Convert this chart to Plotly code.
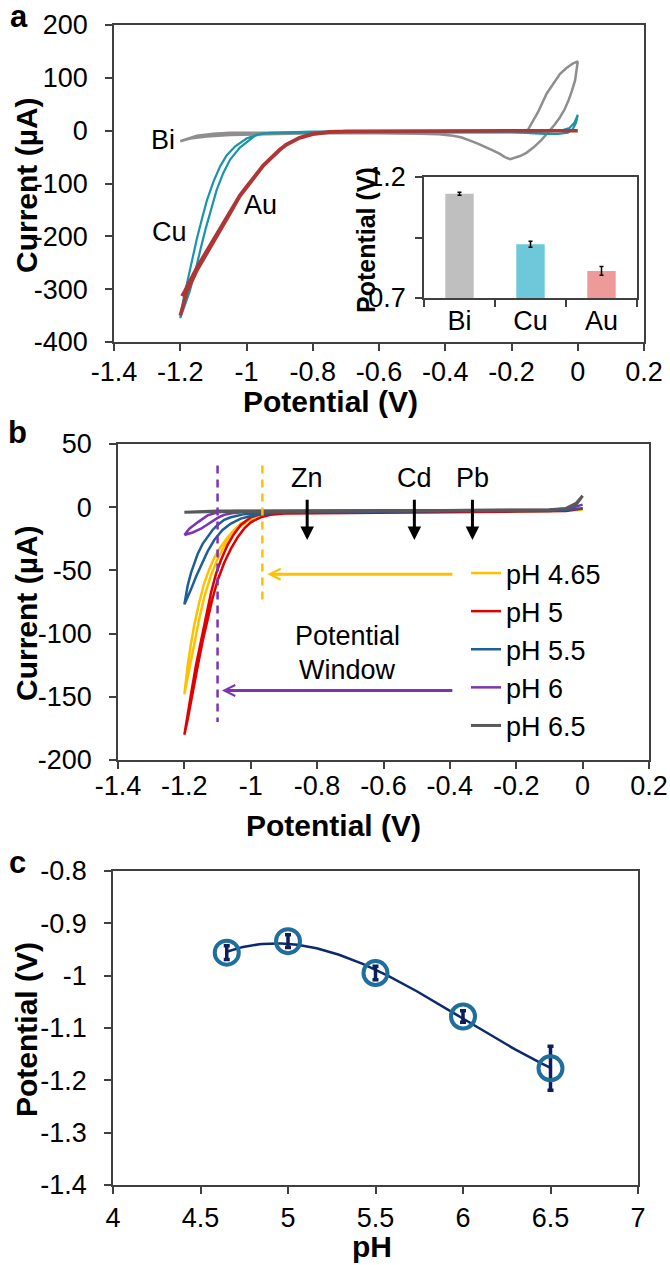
import numpy as np
import plotly.graph_objects as go

W, H = 670, 1265
FONT = "Liberation Sans, Arial, sans-serif"

# ---------------- Panel a: CV curves (V, µA) ----------------
BI_V = [-1.2, -1.17, -1.15, -1.1, -1.05, -0.95, -0.8, -0.6, -0.4, -0.25, -0.17, -0.15, -0.12, -0.094, -0.07, -0.054,
        -0.035, -0.015, 0.0, -0.003, -0.008, -0.018, -0.028, -0.04, -0.054, -0.07, -0.089, -0.11, -0.134, -0.155,
        -0.174, -0.19, -0.204, -0.22, -0.235, -0.255, -0.275, -0.3, -0.325, -0.35, -0.376, -0.42, -0.476, -0.6,
        -0.8, -0.95, -1.05, -1.12, -1.17, -1.2]
BI_I = [-20, -13, -9.5, -6, -4, -4, -4, -4, -4, -4, -3, 2, 35, 70, 92, 107,
        118, 127, 131, 115, 95, 75, 57, 40, 25, 11, -3, -18, -32, -42,
        -48, -52, -54, -50, -44, -38, -32, -25, -19, -13, -9.5, -7, -6, -5,
        -5, -6, -8, -11, -15, -20]

CU_V = [-1.2, -1.19, -1.18, -1.165, -1.15, -1.135, -1.12, -1.1, -1.08, -1.06, -1.035, -1.0, -0.97, -0.93, -0.88,
        -0.8, -0.6, -0.4, -0.2, -0.1, -0.05, -0.025, -0.01, 0.0, -0.005, -0.015, -0.03, -0.06, -0.1, -0.15, -0.2,
        -0.4, -0.6, -0.8, -0.9, -0.95, -0.975, -0.995, -1.02, -1.05, -1.07, -1.09, -1.108, -1.123, -1.138, -1.153,
        -1.172, -1.2]
CU_I = [-355, -318, -290, -245, -205, -168, -133, -97, -68, -47, -30, -15, -8, -4, -3,
        -2, -2, -2, -2, -1.5, 0, 5, 15, 30, 15, 3, -4, -6, -6, -5, -3,
        -3, -3, -3, -4, -5, -10, -20, -32, -55, -80, -112, -150, -185, -222, -262,
        -305, -355]

AU_V = [-1.195, -1.186, -1.15, -1.1, -1.05, -1.02, -1.0, -0.95, -0.9, -0.88, -0.84, -0.8, -0.75, -0.7, -0.4, -0.1, 0.0,
        -0.1, -0.4, -0.7, -0.75, -0.8, -0.84, -0.88, -0.9, -0.95, -1.0, -1.02, -1.05, -1.1, -1.15, -1.18, -1.2]
AU_I = [-313, -303, -259, -206, -155, -122, -106, -66, -36, -26, -13, -6, -2, -1, -0.5, 0, 0,
        0, -0.5, -1, -3, -7, -14, -27, -37, -67, -108, -124, -157, -210, -265, -305, -350]

# inset
INSET_CATS = ["Bi", "Cu", "Au"]
INSET_VALS = [1.131, 0.922, 0.812]
INSET_ERR = [0.006, 0.012, 0.018]
INSET_COLORS = ["#BFBFBF", "#6DC8DA", "#EE9A9A"]

# ---------------- Panel b ----------------
PH465_V = [-1.2, -1.19, -1.18, -1.17, -1.155, -1.14, -1.125, -1.11, -1.09, -1.07, -1.05, -1.03, -1.0, -0.97, -0.94,
           -0.9, -0.8, -0.6, -0.4, -0.2, -0.1, 0.0, -0.1, -0.3, -0.5, -0.7, -0.9, -0.95, -0.98, -1.01, -1.035,
           -1.06, -1.08, -1.1, -1.12, -1.14, -1.155, -1.17, -1.18, -1.19, -1.2]
PH465_I = [-148, -125, -108, -93, -75, -60, -49, -40, -31, -24, -18, -13, -9, -6, -5,
           -4.5, -4, -4, -3.5, -3, -3, -2, -3, -3.5, -4, -4, -4.5, -5.5, -7.5, -11, -16,
           -23, -31, -41, -54, -71, -88, -108, -122, -136, -148]

PH5_V = [-1.2, -1.19, -1.18, -1.165, -1.15, -1.135, -1.12, -1.105, -1.09, -1.07, -1.05, -1.03, -1.0, -0.97, -0.94,
         -0.9, -0.8, -0.6, -0.4, -0.2, -0.05, 0.0, -0.05, -0.2, -0.4, -0.6, -0.8, -0.9, -0.94, -0.97, -1.0, -1.02,
         -1.04, -1.06, -1.08, -1.1, -1.115, -1.13, -1.145, -1.16, -1.175, -1.19, -1.2]
PH5_I = [-180, -163, -148, -125, -105, -85, -68, -53, -42, -30, -21, -14, -8, -5.5, -4.5,
         -4, -4, -4, -3.5, -3, -2.5, -1, -3, -3.5, -4, -4, -4.5, -5, -6, -8, -12, -17,
         -24, -33, -44, -58, -72, -88, -106, -126, -148, -168, -180]

PH55_V = [-1.2, -1.19, -1.18, -1.17, -1.16, -1.145, -1.13, -1.115, -1.1, -1.08, -1.06, -1.04, -1.02, -1.0, -0.95,
          -0.9, -0.7, -0.5, -0.3, -0.1, 0.0, -0.1, -0.3, -0.5, -0.7, -0.9, -0.95, -1.0, -1.03, -1.06, -1.085,
          -1.11, -1.13, -1.15, -1.165, -1.18, -1.19, -1.2]
PH55_I = [-77, -62, -52, -44, -37, -29, -23, -18, -14, -10, -8, -6.5, -5.5, -5, -4,
          -3.5, -3.5, -3, -3, -2.5, -1, -3, -3, -3.5, -3.5, -4, -5, -7, -9, -13, -18,
          -26, -35, -46, -55, -65, -71, -77]

PH6_V = [-1.2, -1.185, -1.16, -1.13, -1.1, -1.05, -1.0, -0.8, -0.6, -0.4, -0.2, -0.1, -0.04, 0.0,
         -0.04, -0.1, -0.3, -0.6, -0.9, -1.0, -1.05, -1.08, -1.1, -1.12, -1.15, -1.175, -1.2]
PH6_I = [-22, -17, -12, -6.5, -4, -3, -3, -2.5, -2.5, -2.5, -2, -2, -1, 2,
         -1, -2, -2.5, -3, -3, -3.5, -4.5, -6, -8.5, -12, -17, -20, -22]

PH65_V = [-1.2, -1.1, -1.0, -0.8, -0.6, -0.4, -0.2, -0.1, -0.05, -0.02, 0.0,
          -0.02, -0.05, -0.1, -0.3, -0.5, -0.7, -0.9, -1.1, -1.2]
PH65_I = [-4, -3, -3, -3, -3, -2.5, -2.5, -2, -1, 3, 9,
          2, -1, -2, -2.5, -3, -3, -3.5, -3.5, -4]

B_NAMES = ["pH 4.65", "pH 5", "pH 5.5", "pH 6", "pH 6.5"]
B_COLORS = ["#FFC000", "#E00000", "#1F5F96", "#7A35B5", "#595959"]

# potential-window markers (V) and arrow levels (µA)
WINDOW_V = [-0.965, -1.1]
WINDOW_ARROW_I = [-53, -145]
METALS = ["Zn", "Cd", "Pb"]
METAL_V = [-0.83, -0.507, -0.332]

# ---------------- Panel c ----------------
PH = [4.65, 5.0, 5.5, 6.0, 6.5]
POT = [-0.956, -0.934, -0.995, -1.078, -1.177]
POT_ERR = [0.013, 0.012, 0.013, 0.011, 0.042]

# tick labels
A_XT = [-1.4, -1.2, -1.0, -0.8, -0.6, -0.4, -0.2, 0.0, 0.2]
A_XL = ["-1.4", "-1.2", "-1", "-0.8", "-0.6", "-0.4", "-0.2", "0", "0.2"]
A_YT = [200, 100, 0, -100, -200, -300, -400]
A_YL = ["200", "100", "0", "-100", "-200", "-300", "-400"]
B_YT = [50, 0, -50, -100, -150, -200]
B_YL = ["50", "0", "-50", "-100", "-150", "-200"]
C_XT = [4, 4.5, 5, 5.5, 6, 6.5, 7]
C_XL = ["4", "4.5", "5", "5.5", "6", "6.5", "7"]
C_YT = [-0.8, -0.9, -1.0, -1.1, -1.2, -1.3, -1.4]
C_YL = ["-0.8", "-0.9", "-1", "-1.1", "-1.2", "-1.3", "-1.4"]


def fx(px):
    return px / W


def fy(py):
    return 1 - py / H


fig = go.Figure()

# panel a curves
fig.add_trace(go.Scatter(x=BI_V, y=BI_I, mode="lines", line=dict(color="#8E8E8E", width=2.5),
                         showlegend=False, xaxis="x", yaxis="y"))
fig.add_trace(go.Scatter(x=CU_V, y=CU_I, mode="lines", line=dict(color="#1A94A6", width=2.2),
                         showlegend=False, xaxis="x", yaxis="y"))
fig.add_trace(go.Scatter(x=AU_V, y=AU_I, mode="lines", line=dict(color="#AE3636", width=3.5),
                         showlegend=False, xaxis="x", yaxis="y"))

# inset bars
fig.add_trace(go.Bar(x=INSET_CATS, y=INSET_VALS, marker=dict(color=INSET_COLORS, line=dict(width=0)),
                     error_y=dict(type="data", array=INSET_ERR, color="black", thickness=1.5, width=2),
                     width=0.4, showlegend=False, xaxis="x4", yaxis="y4"))

# panel b curves
for vv, ii, nm, col in zip([PH465_V, PH5_V, PH55_V, PH6_V, PH65_V],
                           [PH465_I, PH5_I, PH55_I, PH6_I, PH65_I], B_NAMES, B_COLORS):
    fig.add_trace(go.Scatter(x=vv, y=ii, mode="lines", name=nm, legendgroup=nm,
                             line=dict(color=col, width=3 if nm == "pH 6.5" else 2.5),
                             xaxis="x2", yaxis="y2"))

# dashed window lines
fig.add_trace(go.Scatter(x=[WINDOW_V[0], WINDOW_V[0]], y=[33, -73], mode="lines",
                         line=dict(color=B_COLORS[0], width=2.5, dash="8px,6px"), showlegend=False,
                         xaxis="x2", yaxis="y2"))
fig.add_trace(go.Scatter(x=[WINDOW_V[1], WINDOW_V[1]], y=[33, -170], mode="lines",
                         line=dict(color=B_COLORS[3], width=2.5, dash="8px,6px"), showlegend=False,
                         xaxis="x2", yaxis="y2"))

# panel c
coef = np.polyfit(PH, POT, 3)
ph_fit = np.linspace(PH[0], PH[-1], 120)
fig.add_trace(go.Scatter(x=ph_fit, y=np.polyval(coef, ph_fit), mode="lines",
                         line=dict(color="#0B2A6B", width=2.5), showlegend=False, xaxis="x3", yaxis="y3"))
fig.add_trace(go.Scatter(x=PH, y=POT, mode="markers",
                         marker=dict(symbol="circle-open", size=24, line=dict(width=4, color="#1F6E9C"),
                                     color="#1F6E9C"),
                         error_y=dict(type="data", array=POT_ERR, color="#0E1E5B", thickness=3.5, width=3),
                         showlegend=False, xaxis="x3", yaxis="y3"))

TICK_SIZE = 27
axis_common = dict(showline=True, linecolor="#404040", linewidth=1.5, mirror=True, ticks="outside",
                   ticklen=7, tickwidth=1.5, tickcolor="#404040", showgrid=False, zeroline=False,
                   automargin=False, tickfont=dict(family=FONT, size=TICK_SIZE, color="black"))

fig.update_layout(
    width=W, height=H, margin=dict(l=0, r=0, t=0, b=0, autoexpand=False),
    paper_bgcolor="white", plot_bgcolor="white",
    font=dict(family=FONT, color="black"),
    xaxis=dict(domain=[fx(114), fx(644)], range=[-1.4, 0.2], tickvals=A_XT, ticktext=A_XL, anchor="y",
               ticklabelstandoff=-2, **axis_common),
    yaxis=dict(domain=[fy(342), fy(25)], range=[-400, 200], tickvals=A_YT, ticktext=A_YL, anchor="x",
               ticklabelstandoff=12, **axis_common),
    xaxis2=dict(domain=[fx(118), fx(649)], range=[-1.4, 0.2], tickvals=A_XT, ticktext=A_XL, anchor="y2",
                ticklabelstandoff=-6, **axis_common),
    yaxis2=dict(domain=[fy(760), fy(444)], range=[-200, 50], tickvals=B_YT, ticktext=B_YL, anchor="x2",
                ticklabelstandoff=12, **axis_common),
    xaxis3=dict(domain=[fx(113), fx(638)], range=[4, 7], tickvals=C_XT, ticktext=C_XL, anchor="y3",
                ticklabelstandoff=1, **axis_common),
    yaxis3=dict(domain=[fy(1185), fy(871)], range=[-1.4, -0.8], tickvals=C_YT, ticktext=C_YL, anchor="x3",
                ticklabelstandoff=12, **axis_common),
    xaxis4=dict(domain=[fx(424), fx(637)], range=[-0.5, 2.5], type="category", anchor="y4",
                tickson="boundaries", ticklabelstandoff=-2, **axis_common),
    yaxis4=dict(domain=[fy(298), fy(177)], range=[0.7, 1.2], tickvals=[0.7, 0.95, 1.2],
                ticktext=["0.7", "", "1.2"], anchor="x4", ticklabelstandoff=4, **axis_common),
    legend=dict(x=fx(466), y=fy(549), xanchor="left", yanchor="top", bgcolor="rgba(0,0,0,0)",
                font=dict(family=FONT, size=27, color="black"), tracegroupgap=0, itemwidth=30),
    bargap=0.6,
)

ann = []


def txt(x, y, s, size=26, bold=False, angle=0, xref="paper", yref="paper", xanchor="center"):
    ann.append(dict(x=x, y=y, xref=xref, yref=yref, text=("<b>%s</b>" % s) if bold else s, showarrow=False,
                    textangle=angle, xanchor=xanchor, yanchor="middle",
                    font=dict(family=FONT, size=size, color="black")))


# panel letters
txt(fx(19), fy(16), "a", size=31, bold=True)
txt(fx(17), fy(432), "b", size=31, bold=True)
txt(fx(17), fy(863), "c", size=31, bold=True)

# axis titles
TITLE_SIZE = 30
txt(fx(330), fy(402), "Potential (V)", size=TITLE_SIZE, bold=True)
txt(fx(26), fy(185), "Current (µA)", size=TITLE_SIZE, bold=True, angle=-90)
txt(fx(333), fy(825), "Potential (V)", size=TITLE_SIZE, bold=True)
txt(fx(26), fy(613), "Current (µA)", size=TITLE_SIZE, bold=True, angle=-90)
txt(fx(372), fy(1246), "pH", size=TITLE_SIZE, bold=True)
txt(fx(26), fy(1030), "Potential (V)", size=TITLE_SIZE, bold=True, angle=-90)
txt(fx(366), fy(240), "Potential (V)", size=25, bold=True, angle=-90)

# panel a curve labels
txt(-1.252, -17, "Bi", xref="x", yref="y", size=27)
txt(-1.231, -192, "Cu", xref="x", yref="y", size=27)
txt(-0.957, -140, "Au", xref="x", yref="y", size=27)

# panel b texts
for m, v in zip(METALS, METAL_V):
    txt(v, 23, m, xref="x2", yref="y2", size=27)
    ann.append(dict(x=v, y=-26, ax=v, ay=7, xref="x2", yref="y2", axref="x2", ayref="y2", text="",
                    showarrow=True, arrowhead=2, arrowsize=0.9, arrowwidth=3, arrowcolor="black"))
txt(-0.708, -102, "Potential", xref="x2", yref="y2", size=27)
txt(-0.708, -129, "Window", xref="x2", yref="y2", size=27)
ann.append(dict(x=-0.95, y=WINDOW_ARROW_I[0], ax=-0.388, ay=WINDOW_ARROW_I[0], xref="x2", yref="y2",
                axref="x2", ayref="y2", text="", showarrow=True, arrowhead=5, arrowsize=0.72, arrowwidth=3,
                arrowcolor=B_COLORS[0]))
ann.append(dict(x=-1.087, y=WINDOW_ARROW_I[1], ax=-0.388, ay=WINDOW_ARROW_I[1], xref="x2", yref="y2",
                axref="x2", ayref="y2", text="", showarrow=True, arrowhead=5, arrowsize=0.72, arrowwidth=3,
                arrowcolor=B_COLORS[3]))

fig.update_layout(annotations=ann)
fig.write_html("out.html", config={"displayModeBar": False},
               post_script="document.body.style.margin='0';document.body.style.overflow='hidden';")
